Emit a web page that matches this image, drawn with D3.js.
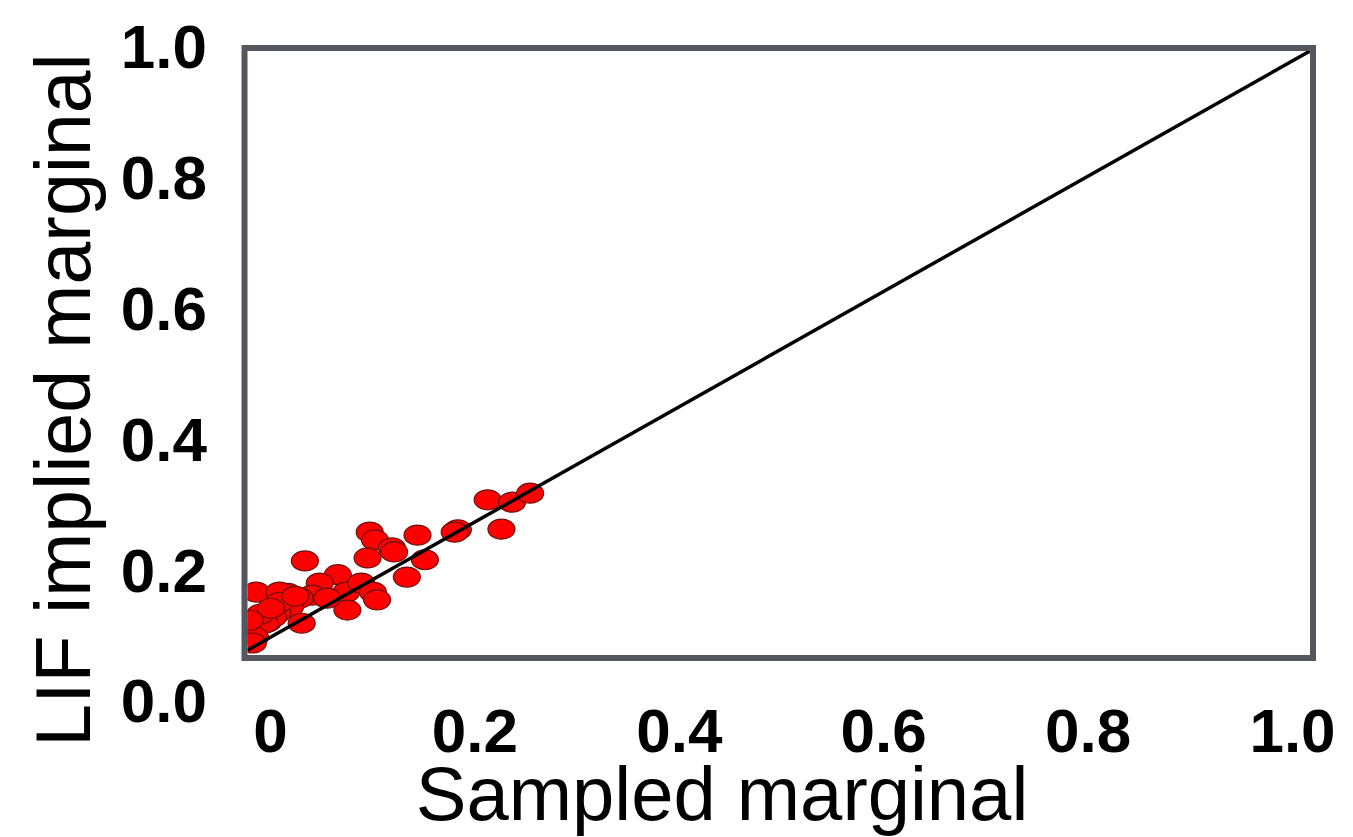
<!DOCTYPE html>
<html>
<head>
<meta charset="utf-8">
<script src="https://cdn.jsdelivr.net/npm/d3@7"></script>
<style>
  html, body { margin: 0; padding: 0; background: #fff; }
  svg { display: block; }
  text { font-family: "Liberation Sans", Arial, Helvetica, sans-serif; }
</style>
</head>
<body>
<svg id="chart" width="1353" height="837"></svg>
<script>
// Sampled marginal (x) vs LIF implied marginal (y)
const sampledMarginal = [0.054,0.115,0.120,0.136,0.138,0.113,0.160,0.167,0.150,0.198,0.195,0.226,0.249,0.266,0.239,
  0.085,0.068,0.061,0.093,0.107,0.118,0.122,0.094,0.008,0.038,0.030,0.049,0.040,0.028,0.051,0.019,0.008,0.005,0.024,
  0.016,0.007,0.005,0.075,0.030,0.045,0.012,0.022,0.002];
const lifMarginal = [0.149,0.197,0.184,0.171,0.164,0.154,0.192,0.151,0.122,0.201,0.197,0.251,0.247,0.262,0.202,
  0.126,0.112,0.092,0.097,0.112,0.097,0.084,0.067,0.097,0.095,0.097,0.087,0.072,0.062,0.045,0.047,0.039,0.029,0.055,
  0.045,0.022,0.012,0.087,0.080,0.090,0.060,0.070,0.050];
const identityLine = [0, 1];
const xTickValues = [0, 0.2, 0.4, 0.6, 0.8, 1.0];
const xTickLabels = ["0", "0.2", "0.4", "0.6", "0.8", "1.0"];
const yTickValues = [0, 0.2, 0.4, 0.6, 0.8, 1.0];
const yTickLabels = ["0.0", "0.2", "0.4", "0.6", "0.8", "1.0"];
const xTitle = "Sampled marginal";
const yTitle = "LIF implied marginal";

const svg = d3.select("#chart");
const inner = {left: 247.5, right: 1310, top: 51, bottom: 655};

const x = d3.scaleLinear().domain([0, 1]).range([inner.left, inner.right]);
const y = d3.scaleLinear().domain([-0.008, 1]).range([inner.bottom, inner.top]);

// tick label scales (labels are placed independently of the plot frame)
const xLab = d3.scaleLinear().domain([0, 1]).range([270, 1292]);
const yLab = d3.scaleLinear().domain([0, 1]).range([702, 48]);

svg.append("defs").append("clipPath").attr("id", "clip")
  .append("rect")
  .attr("x", inner.left).attr("y", inner.top)
  .attr("width", inner.right - inner.left).attr("height", inner.bottom - inner.top);

const plot = svg.append("g").attr("clip-path", "url(#clip)");

plot.selectAll("ellipse.pt")
  .data(sampledMarginal.map((v, i) => [v, lifMarginal[i]]))
  .join("ellipse")
  .attr("class", "pt")
  .attr("cx", d => x(d[0]))
  .attr("cy", d => y(d[1]))
  .attr("rx", 13.5)
  .attr("ry", 10)
  .attr("fill", "#ff0000")
  .attr("stroke", "#6e1010")
  .attr("stroke-width", 1.2);

plot.append("line")
  .attr("x1", x(identityLine[0])).attr("y1", y(identityLine[0]))
  .attr("x2", x(identityLine[1])).attr("y2", y(identityLine[1]))
  .attr("stroke", "#000").attr("stroke-width", 3.5);

// frame
svg.append("rect")
  .attr("x", inner.left - 3).attr("y", inner.top - 3)
  .attr("width", inner.right - inner.left + 6).attr("height", inner.bottom - inner.top + 6)
  .attr("fill", "none").attr("stroke", "#54585e").attr("stroke-width", 6);

// axes (labels only)
const xAxis = d3.axisBottom(xLab).tickValues(xTickValues)
  .tickFormat((d, i) => xTickLabels[i]).tickSize(0).tickPadding(3);
const gx = svg.append("g").attr("transform", "translate(0,705)").call(xAxis);
gx.select(".domain").remove();
gx.selectAll("text").attr("font-size", 62).attr("font-weight", "bold")
  .attr("fill", "#000").style("font-family", '"Liberation Sans", Arial, Helvetica, sans-serif');

const yAxis = d3.axisLeft(yLab).tickValues(yTickValues)
  .tickFormat((d, i) => yTickLabels[i]).tickSize(0).tickPadding(3);
const gy = svg.append("g").attr("transform", "translate(210,0)").call(yAxis);
gy.select(".domain").remove();
gy.selectAll("text").attr("font-size", 62).attr("font-weight", "bold")
  .attr("fill", "#000").style("font-family", '"Liberation Sans", Arial, Helvetica, sans-serif');

// titles
svg.append("text")
  .attr("x", 722).attr("y", 820)
  .attr("text-anchor", "middle")
  .attr("font-size", 76)
  .attr("fill", "#000")
  .text(xTitle);

svg.append("text")
  .attr("transform", "translate(90,400) rotate(-90)")
  .attr("text-anchor", "middle")
  .attr("font-size", 77)
  .attr("fill", "#000")
  .text(yTitle);
</script>
</body>
</html>
